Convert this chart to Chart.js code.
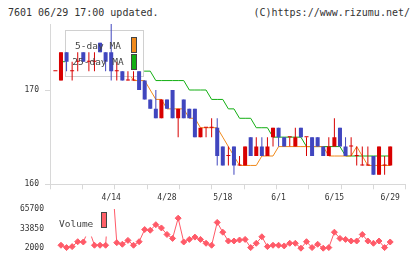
<!DOCTYPE html>
<html>
<head>
<meta charset="utf-8">
<script src="https://cdn.jsdelivr.net/npm/chart.js@4.4.1/dist/chart.umd.min.js"></script>
<style>
  html, body { margin: 0; padding: 0; background: #fff; }
  #wrap { position: relative; width: 420px; height: 259px; overflow: hidden; }
  #wrap canvas { position: absolute; left: 0; top: 0; }
  .head { position: absolute; top: 7px; font: 10px/12px 'DejaVu Sans Mono', monospace; color: #333; white-space: nowrap; }
</style>
</head>
<body>
<div id="wrap">
  <div class="head" style="left:8px">7601 06/29 17:00 updated.</div>
  <div class="head" style="right:10px">(C)https://www.rizumu.net/</div>
  <canvas id="price" width="420" height="259"></canvas>
  <canvas id="vol" width="420" height="259"></canvas>
</div>
<script>
// trading days shown
const dates = ['3/31','4/1','4/2','4/3','4/6','4/7','4/8','4/9','4/10','4/13',
  '4/14','4/15','4/16','4/17','4/20','4/21','4/22','4/23','4/24','4/27',
  '4/28','4/30','5/1','5/7','5/8','5/11','5/12','5/13','5/14','5/15',
  '5/18','5/19','5/20','5/21','5/22','5/25','5/26','5/27','5/28','5/29',
  '6/1','6/2','6/3','6/4','6/5','6/8','6/9','6/10','6/11','6/12',
  '6/15','6/16','6/17','6/18','6/19','6/22','6/23','6/24','6/25','6/26','6/29'];

const open = [172,171,174,172,173,174,173,173,175,174,
  174,172,172,171,171,172,171,169,168,167,
  169,170,167,169,168,168,165,166,166,166,
  164,163,164,162,162,165,163,164,163,165,
  166,165,165,164,166,165,165,165,164,163,
  164,166,164,164,163,162,162,163,161,162,162];
const high = [172,174,174,173,174,174,174,174,175,174,
  177,173,172,172,172,172,171,169,170,169,
  169,170,168,169,168,168,166,166,167,167,
  164,164,164,163,164,165,165,165,165,166,
  166,165,165,166,166,165,165,165,164,165,
  167,166,165,165,164,164,164,163,164,163,164];
const low = [172,171,172,171,172,173,172,172,174,172,
  171,171,171,171,171,170,169,168,167,167,
  168,167,165,167,167,165,165,165,165,162,
  162,162,161,162,162,163,163,163,163,164,
  164,164,164,164,165,163,163,164,163,163,
  164,164,163,163,162,162,162,161,161,161,162];
const close = [172,174,173,172,173,173,173,173,174,173,
  172,172,171,171,171,170,169,168,167,169,
  168,167,168,167,167,165,166,166,166,163,
  162,163,162,162,164,163,164,163,164,166,
  165,164,165,165,165,165,163,164,163,164,
  165,164,163,164,163,162,162,161,164,162,164];

const ma5 = [null,null,173,173,173,173,173,173,173,173,
  173,172,172,172,171,171,171,170,169,169,
  168,168,168,168,167,167,166,166,166,166,
  165,164,163,162,162,162,162,163,163,163,
  164,164,164,164,164,164,164,164,164,163,
  163,163,163,163,164,163,162,162,162,162,162];
const ma25 = [null,173,173,173,173,173,173,173,173,172,
  172,172,172,172,172,172,172,172,171,171,
  171,171,171,171,170,170,170,170,169,169,
  169,168,168,167,167,167,166,166,166,165,
  165,165,165,165,165,164,164,164,164,164,
  164,164,163,163,163,163,163,163,163,163,163];

const volume = [null,6800,3000,4600,12600,12100,33000,6800,6800,6800,
  137000,11000,8400,14700,6800,12600,32300,31200,40200,34900,
  24300,17900,50800,12100,16300,20000,16300,10000,6800,43900,
  28000,13700,13700,15300,16300,3000,10000,20600,4600,6800,
  6800,5700,10000,10000,2000,12600,3000,8400,2000,3000,
  28000,17900,16300,13700,13700,24300,13700,10000,13700,3000,12100];

const dateTicks = ['4/14','4/28','5/18','6/1','6/15','6/29'];
const priceTicks = [160, 170];
const volumeTicks = [2000, 33850, 65700];

const RED = '#d80000';
const BLUE = '#4046bf';
const ORANGE = '#f08a1c';
const GREEN = '#12ae12';
const VOLCOL = '#ff5a68';
const AXIS = '#d8d8d8';

// x range so both panels line up
const XMIN = -0.968;
const XMAX = 62.78;
const labelIdx = dateTicks.map(d => dates.indexOf(d));
let markTicks = [];
for (let j = 0; j <= 11; j++) {
    markTicks.push(XMIN + j * (XMAX - XMIN) / 11);
}

Chart.defaults.font.family = "'DejaVu Sans Mono', monospace";
Chart.defaults.font.size = 8;
Chart.defaults.color = '#333';
Chart.defaults.animation = false;

function candleColor(ctx) {
    let i = ctx.dataIndex;
    return close[i] >= open[i] ? RED : BLUE;
}

const maLegend = {
    id: 'maLegend',
    afterDatasetDraw(chart, args) {
        // box sits above the MA lines but under the candles
        if (args.index !== 1) return;
        let c = chart.ctx;
        c.save();
        c.fillStyle = '#fff';
        c.fillRect(65, 30, 79, 47);
        c.strokeStyle = '#d0d0d0';
        c.lineWidth = 1;
        c.strokeRect(65.5, 30.5, 78, 46);
        c.restore();
    },
    afterDatasetsDraw(chart) {
        let c = chart.ctx;
        c.save();
        c.font = "9.5px 'DejaVu Sans Mono'";
        c.fillStyle = '#444';
        c.textAlign = 'center';
        c.fillText('5-day MA', 98, 49);
        c.fillText('25-day MA', 98, 65);
        c.strokeStyle = '#444';
        c.lineWidth = 1;
        c.fillStyle = ORANGE;
        c.fillRect(131.5, 37.5, 5, 15);
        c.strokeRect(131.5, 37.5, 5, 15);
        c.fillStyle = GREEN;
        c.fillRect(131.5, 54.5, 5, 15);
        c.strokeRect(131.5, 54.5, 5, 15);
        c.restore();
    }
};

const chartPrice = new Chart(document.getElementById('price'), {
    type: 'bar',
    data: {
        labels: dates.map((d, i) => i),
        datasets: [
            { type: 'line', label: '25-day MA', data: ma25, borderColor: GREEN, borderWidth: 1, pointRadius: 0, order: 4 },
            { type: 'line', label: '5-day MA', data: ma5, borderColor: ORANGE, borderWidth: 1, pointRadius: 0, order: 3 },
            { label: 'wick', data: low.map((l, i) => [l, high[i]]), backgroundColor: candleColor,
              maxBarThickness: 1, grouped: false, inflateAmount: 0, order: 1 },
            { label: 'body', data: open.map((o, i) => [o, close[i]]), backgroundColor: candleColor,
              maxBarThickness: 5, minBarLength: 1, grouped: false, inflateAmount: 0, order: 0 }
        ]
    },
    options: {
        responsive: false,
        devicePixelRatio: 1,
        events: [],
        layout: { padding: { top: 24, right: 14.3, bottom: 54.7, left: 0 } },
        plugins: { legend: { display: false }, tooltip: { enabled: false } },
        scales: {
            x: {
                type: 'linear',
                min: XMIN,
                max: XMAX,
                offset: false,
                grid: {
                    offset: false,
                    drawOnChartArea: false,
                    tickLength: 5,
                    tickColor: (ctx) => labelIdx.includes(ctx.tick.value) ? 'rgba(0,0,0,0)' : AXIS
                },
                border: { color: AXIS },
                ticks: {
                    autoSkip: false,
                    maxRotation: 0,
                    padding: 4,
                    callback: (v) => labelIdx.includes(v) ? dates[v] : ''
                },
                afterBuildTicks: (s) => {
                    s.ticks = markTicks.concat(labelIdx).map(v => ({ value: v }));
                },
                afterFit: (s) => { s.height = 20; }
            },
            y: {
                min: 160,
                max: 177,
                grid: { drawOnChartArea: false, tickLength: 5, color: AXIS },
                border: { color: AXIS },
                ticks: { padding: 6, callback: (v) => String(v) },
                afterBuildTicks: (s) => {
                    s.ticks = priceTicks.map(v => ({ value: v }));
                },
                afterFit: (s) => { s.width = 50; }
            }
        }
    },
    plugins: [maLegend]
});

const volLegend = {
    id: 'volLegend',
    afterDatasetsDraw(chart) {
        let c = chart.ctx;
        c.save();
        c.fillStyle = '#fff';
        c.fillRect(55, 207, 56, 29.5);
        c.font = "9.5px 'DejaVu Sans Mono'";
        c.fillStyle = '#444';
        c.fillText('Volume', 59, 226.5);
        c.fillStyle = '#ff6068';
        c.strokeStyle = '#444';
        c.lineWidth = 1;
        c.fillRect(101.5, 212.5, 5, 15);
        c.strokeRect(101.5, 212.5, 5, 15);
        c.restore();
    }
};

const chartVol = new Chart(document.getElementById('vol'), {
    type: 'line',
    data: {
        labels: dates.map((d, i) => i),
        datasets: [{
            label: 'Volume',
            data: volume,
            borderColor: VOLCOL,
            backgroundColor: VOLCOL,
            borderWidth: 1,
            pointStyle: 'rectRot',
            pointRadius: 3,
            pointBorderWidth: 1,
            clip: { left: 0, right: 0, top: 0, bottom: 6 }
        }]
    },
    options: {
        responsive: false,
        devicePixelRatio: 1,
        events: [],
        layout: { padding: { top: 209, right: 14.3, bottom: 10, left: 0 } },
        plugins: { legend: { display: false }, tooltip: { enabled: false } },
        scales: {
            x: { type: 'linear', min: XMIN, max: XMAX, display: false },
            y: {
                min: 2000,
                max: 65700,
                grid: { display: false, drawTicks: false },
                border: { display: false },
                ticks: { padding: 6, callback: (v) => String(v) },
                afterBuildTicks: (s) => {
                    s.ticks = volumeTicks.map(v => ({ value: v }));
                },
                afterFit: (s) => { s.width = 50; }
            }
        }
    },
    plugins: [volLegend]
});
</script>
</body>
</html>
